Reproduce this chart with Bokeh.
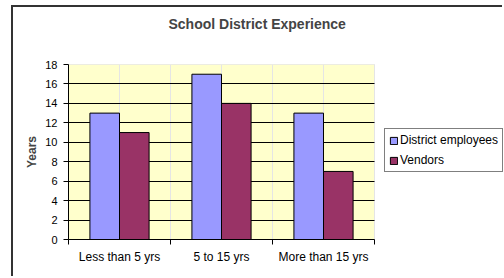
from bokeh.plotting import figure
from bokeh.models import (ColumnDataSource, Range1d, LinearAxis, FixedTicker,
                          Legend, LegendItem, BoxAnnotation)
from bokeh.transform import dodge
from bokeh.embed import file_html
from bokeh.resources import INLINE

# ---- data ----
categories = ["Less than 5 yrs", "5 to 15 yrs", "More than 15 yrs"]
district_employees = [13, 17, 13]
vendors = [11, 14, 7]
y_ticks = [0, 2, 4, 6, 8, 10, 12, 14, 16, 18]
series_names = ["District employees", "Vendors"]
title_text = "School District Experience"
y_title = "Years"

FONT = "Liberation Sans"

# layout: plot area is 306px wide inside a 435px frame that also holds the legend
PLOT_AREA_W = 306
FRAME_W = 435

n = len(categories)
centers = [i + 0.5 for i in range(n)]
bounds = list(range(n + 1))
source = ColumnDataSource(dict(x=centers, emp=district_employees, ven=vendors))

p = figure(
    width=491, height=271,
    x_range=Range1d(0, n * FRAME_W / PLOT_AREA_W),
    y_range=Range1d(y_ticks[0], y_ticks[-1]),
    x_axis_location=None,
    output_backend="svg", toolbar_location=None,
    min_border_left=55, min_border_right=1, min_border_top=57, min_border_bottom=39,
    background_fill_color="white", border_fill_color="white",
    outline_line_color=None,
)
p.styles = {"margin-left": "11px", "margin-top": "5px",
            "border-left": "2px solid #333333", "border-top": "2px solid #333333"}

# title (blank trailing lines lift it above the plot area)
p.title.text = title_text + "\n\n"
p.title.text_font = FONT
p.title.text_font_size = "14px"
p.title.text_font_style = "bold"
p.title.text_line_height = 0.85
p.title.align = "left"
p.title.offset = 100
p.title.vertical_align = "top"
p.title.standoff = 8

# plot area background
area = BoxAnnotation(left=0, right=n, bottom=y_ticks[0], top=y_ticks[-1],
                     fill_color="#FFFFCC", fill_alpha=1,
                     line_color="#808080", line_width=1, level="image")
p.add_layout(area)

# category axis: labels at centers, boundary ticks as minor ticks
cat_axis = LinearAxis(ticker=FixedTicker(ticks=centers, minor_ticks=bounds),
                      major_label_overrides={c: t for c, t in zip(centers, categories)},
                      bounds=(0, n),
                      axis_line_color="black",
                      major_tick_line_color=None, major_tick_out=0, major_tick_in=0,
                      minor_tick_line_color="black", minor_tick_out=5, minor_tick_in=0,
                      major_label_standoff=5,
                      major_label_text_font=FONT, major_label_text_font_size="12px",
                      major_label_text_color="black")
p.add_layout(cat_axis, "below")

# y axis
p.yaxis.ticker = FixedTicker(ticks=y_ticks)
p.yaxis.major_tick_out = 5
p.yaxis.major_tick_in = 0
p.yaxis.minor_tick_out = 0
p.yaxis.minor_tick_in = 0
p.yaxis.axis_line_color = "black"
p.yaxis.major_tick_line_color = "black"
p.yaxis.major_label_text_font = FONT
p.yaxis.major_label_text_font_size = "11px"
p.yaxis.major_label_text_color = "black"
p.yaxis.major_label_standoff = 6
p.yaxis.axis_label = y_title
p.yaxis.axis_label_text_font = FONT
p.yaxis.axis_label_text_font_size = "12px"
p.yaxis.axis_label_text_font_style = "bold"
p.yaxis.axis_label_standoff = 3

p.ygrid.ticker = FixedTicker(ticks=y_ticks[:-1])
p.ygrid.grid_line_color = "black"
p.ygrid.grid_line_width = 1
try:
    p.ygrid.cross_bounds = (0, n)
except Exception:
    p.ygrid.visible = False
    p.segment(x0=[0] * (len(y_ticks) - 2), x1=[n] * (len(y_ticks) - 2),
              y0=y_ticks[1:-1], y1=y_ticks[1:-1], line_color="black", line_width=1)

r1 = p.vbar(x=dodge("x", -0.145), top="emp", width=0.29, source=source,
            fill_color="#9999FF", line_color="black", line_width=1)
r2 = p.vbar(x=dodge("x", 0.145), top="ven", width=0.29, source=source,
            fill_color="#993366", line_color="black", line_width=1)

legend = Legend(items=[LegendItem(label=series_names[0], renderers=[r1]),
                       LegendItem(label=series_names[1], renderers=[r2])],
                location=(316, 67), orientation="vertical",
                border_line_color="black", border_line_width=1,
                background_fill_color="white", background_fill_alpha=1,
                padding=4, spacing=6, margin=0,
                glyph_width=9, glyph_height=9, label_standoff=2, label_height=10,
                label_text_font=FONT, label_text_font_size="12px", label_text_color="black")
p.add_layout(legend, "center")

open("out.html", "w").write(file_html(p, INLINE))
